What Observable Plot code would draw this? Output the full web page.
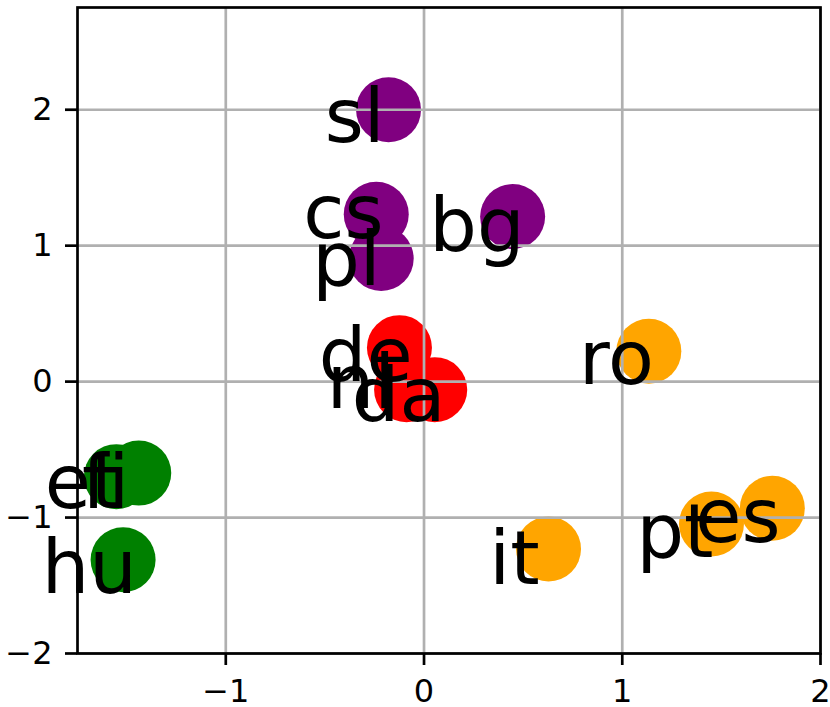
<!DOCTYPE html>
<html>
<head>
<meta charset="utf-8">
<script src="https://cdn.jsdelivr.net/npm/d3@7"></script>
<script src="https://cdn.jsdelivr.net/npm/@observablehq/plot@0.6"></script>
<style>
  html, body { margin: 0; padding: 0; background: white; }
</style>
</head>
<body>
<div id="chart"></div>
<script>
// Language codes
const labels = ["sl", "cs", "pl", "bg", "de", "nl", "da", "ro", "it", "pt", "es", "et", "fi", "hu"];
// Language family of each code
const groups = ["slavic", "slavic", "slavic", "slavic", "germanic", "germanic", "germanic",
                "romance", "romance", "romance", "romance", "finnougric", "finnougric", "finnougric"];
// Point coordinates (circle centres)
const pointX = [-0.179, -0.241, -0.216, 0.447, -0.124, -0.088, 0.054, 1.134, 0.628, 1.450, 1.757, -1.552, -1.439, -1.518];
const pointY = [2.000, 1.231, 0.905, 1.214, 0.250, -0.059, -0.059, 0.223, -1.231, -1.047, -0.931, -0.699, -0.673, -1.311];
// Label anchor coordinates (right end / baseline of each label)
const labelX = [-0.199, -0.204, -0.219, 0.507, -0.058, -0.146, 0.108, 1.160, 0.583, 1.460, 1.798, -1.532, -1.487, -1.449];
const labelY = [1.761, 1.060, 0.714, 0.964, 0.007, -0.191, -0.287, -0.017, -1.486, -1.288, -1.182, -0.927, -0.927, -1.558];
// Family names and colours
const familyNames = ["slavic", "germanic", "romance", "finnougric"];
const familyColors = ["purple", "red", "orange", "green"];
// Ticks
const xTicks = [-1, 0, 1, 2];
const yTicks = [-2, -1, 0, 1, 2];
const xDomain = [-1.748, 2.0];
const yDomain = [-2.0, 2.752];

const gridStyle = {stroke: "#b0b0b0", strokeOpacity: 1, strokeWidth: 2.7};
const fmt = d3.format("d");

const chart = Plot.plot({
  width: 830,
  height: 707,
  marginLeft: 77,
  marginRight: 10,
  marginTop: 7,
  marginBottom: 54,
  style: {fontFamily: "DejaVu Sans", background: "white", color: "black"},
  x: {domain: xDomain, label: null},
  y: {domain: yDomain, label: null},
  color: {type: "ordinal", domain: familyNames, range: familyColors},
  marks: [
    Plot.dot(labels, {x: pointX, y: pointY, fill: groups, r: 32.5, stroke: "none"}),
    Plot.gridX(xTicks, {...gridStyle}),
    Plot.gridY(yTicks, {...gridStyle}),
    Plot.frame({stroke: "black", strokeWidth: 2.7}),
    Plot.axisX({ticks: xTicks, tickFormat: fmt, tickSize: 12, tickPadding: 14, fontSize: 32, strokeWidth: 2.7, label: null}),
    Plot.axisY({ticks: yTicks, tickFormat: fmt, tickSize: 12, tickPadding: 13, fontSize: 32, strokeWidth: 2.7, label: null}),
    Plot.text(labels, {x: labelX, y: labelY, text: labels, textAnchor: "end", lineAnchor: "bottom", fontSize: 75, fill: "black"})
  ]
});
document.getElementById("chart").appendChild(chart);
</script>
</body>
</html>
